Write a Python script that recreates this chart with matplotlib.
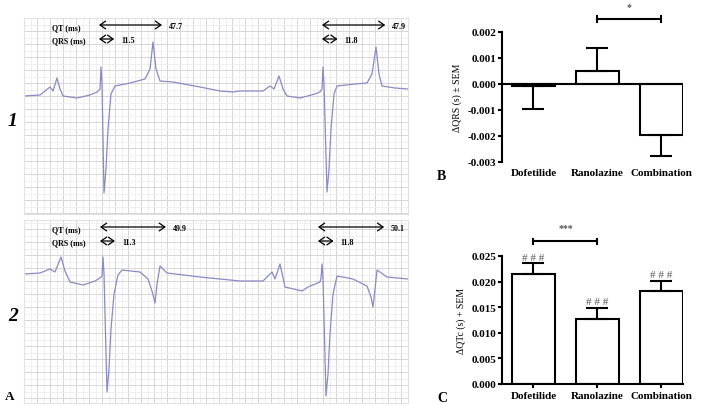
import matplotlib.pyplot as plt
from matplotlib.patches import FancyArrowPatch
from matplotlib.ticker import MultipleLocator, FormatStrFormatter

W, H = 702, 406
plt.rcParams['font.family'] = ['Liberation Serif', 'DejaVu Serif']
plt.rcParams['font.weight'] = 'bold'
plt.rcParams['axes.unicode_minus'] = False

# ECG traces
# t: position along the strip (grid px from left edge), v: amplitude above baseline
ecg1_t = [0, 16, 26, 29, 33, 36, 39, 53, 66, 73, 76, 77, 78, 80, 82, 84, 87, 91, 106, 121,
          126, 129, 132, 136, 149, 176, 196, 209, 216, 239, 246, 250, 255, 259, 263, 276, 291,
          296, 298, 299, 300, 303, 305, 307, 310, 313, 331, 343, 348, 352, 355, 358, 371, 384]
ecg1_v = [0, 1, 9, 5, 18, 7, 0, -2, 1, 4, 7, 29, 12, -97, -73, -33, 2, 10, 13, 17,
          27, 54, 27, 15, 14, 9, 5, 4, 5, 5, 10, 7, 20, 7, 0, -2, 2,
          4, 7, 29, 12, -96, -73, -33, 2, 10, 12, 13, 22, 49, 22, 10, 8, 7]

ecg2_t = [0, 16, 26, 31, 37, 41, 46, 59, 71, 76, 78, 79, 80, 83, 85, 87, 90, 94, 98, 116,
          124, 128, 131, 133, 136, 143, 176, 216, 239, 248, 251, 256, 261, 278, 284, 296, 297,
          298, 299, 302, 304, 306, 309, 313, 329, 343, 347, 349, 351, 353, 363, 384]
ecg2_v = [7, 8, 12, 9, 24, 10, -1, -4, 0, 3, 5, 24, 7, -111, -88, -48, -13, 6, 11, 9,
          2, -10, -22, -3, 15, 8, 4, 0, 0, 9, 2, 17, -6, -10, -6, -1, 3,
          17, 2, -115, -93, -53, -13, 5, 2, -5, -16, -26, -8, 11, 4, 2]

# measured intervals (ms) for the two beats of each strip
qt_ms = [[47.7, 47.9], [49.9, 50.1]]
qrs_ms = [[11.5, 11.8], [11.3, 11.8]]

groups = ['Dofetilide', 'Ranolazine', 'Combination']
dqrs_mean = [-0.00007, 0.0005, -0.00195]
dqrs_sem = [0.00088, 0.00087, 0.0008]
dqtc_mean = [0.0215, 0.0127, 0.0181]
dqtc_sem = [0.0021, 0.0022, 0.0021]


def box(l, t, r, b):
    return [l / W, 1 - b / H, (r - l) / W, (b - t) / H]


def fx(x):
    return x / W


def fy(y):
    return 1 - y / H


fig = plt.figure(figsize=(W / 100, H / 100), dpi=100)
trace_col = '#8a8ac8'

strips = [
    (box(24, 19, 408, 215), ecg1_t, ecg1_v, (-118, 78), 19, [99, 322]),
    (box(24, 221, 408, 404), ecg2_t, ecg2_v, (-122, 61), 221, [100, 318]),
]
px_per_ms = 1.32

for i, (pos, t, v, ylim, top, onsets) in enumerate(strips):
    ax = fig.add_axes(pos)
    ax.set_xlim(0, 384)
    ax.set_ylim(*ylim)
    ax.xaxis.set_major_locator(MultipleLocator(13))
    ax.xaxis.set_minor_locator(MultipleLocator(6.5))
    ax.yaxis.set_major_locator(MultipleLocator(13))
    ax.yaxis.set_minor_locator(MultipleLocator(6.5))
    ax.grid(which='major', color='#d6d6d6', lw=0.7)
    ax.grid(which='minor', color='#eeeeee', lw=0.6)
    ax.tick_params(which='both', length=0, labelbottom=False, labelleft=False)
    for s in ax.spines.values():
        s.set_color('#e2e2e2')
    ax.plot(t, v, color=trace_col, lw=0.9)

    y_qt = top + 7
    y_qrs = top + 21
    fig.text(fx(52), fy(y_qt + 2), 'QT (ms)', fontsize=5.8, va='center')
    fig.text(fx(52), fy(y_qrs + 1), 'QRS (ms)', fontsize=5.8, va='center')
    for k, x0 in enumerate(onsets):
        x_qt = x0 + qt_ms[i][k] * px_per_ms
        x_qrs = x0 + qrs_ms[i][k] * px_per_ms
        for x1, yy in [(x_qt, y_qt), (x_qrs, y_qrs)]:
            fig.add_artist(FancyArrowPatch((fx(x0), fy(yy)), (fx(x1), fy(yy)),
                                           transform=fig.transFigure,
                                           arrowstyle='<->,head_length=0.5,head_width=0.35',
                                           mutation_scale=8, lw=0.9, color='k',
                                           shrinkA=0, shrinkB=0))
        fig.text(fx(x_qt + 7), fy(y_qt + 1), f'{qt_ms[i][k]:.1f}', fontsize=5.8, va='center')
        fig.text(fx(x_qrs + 7), fy(y_qrs + 1), f'{qrs_ms[i][k]:.1f}', fontsize=5.8, va='center')

fig.text(fx(5), fy(400), 'A', fontsize=9.5, va='baseline')
fig.text(fx(8), fy(126), '1', fontsize=14, style='italic', va='baseline')
fig.text(fx(8), fy(321), '2', fontsize=14, style='italic', va='baseline')

x = [0, 1, 2]
bw = 0.67


def one_sided(means, sems):
    lo = [s if m < 0 else 0 for m, s in zip(means, sems)]
    hi = [s if m >= 0 else 0 for m, s in zip(means, sems)]
    return [lo, hi]


# Panel B
axb = fig.add_axes(box(502, 33, 683, 163))
axb.bar(x, dqrs_mean, width=bw, color='white', edgecolor='k', lw=1.5, zorder=2)
axb.errorbar(x, dqrs_mean, yerr=one_sided(dqrs_mean, dqrs_sem), fmt='none', ecolor='k',
             elinewidth=1.5, capsize=8, capthick=1.5, zorder=3)
axb.axhline(0, color='k', lw=1.5, zorder=4)
axb.set_xlim(-0.49, 2.336)
axb.set_ylim(-0.003, 0.002)
axb.yaxis.set_major_locator(MultipleLocator(0.001))
axb.yaxis.set_major_formatter(FormatStrFormatter('%.3f'))
for s in ['top', 'right', 'bottom']:
    axb.spines[s].set_visible(False)
axb.spines['left'].set_linewidth(1.5)
axb.set_xticks(x, groups)
axb.tick_params(axis='x', length=0, pad=4, labelsize=8)
axb.tick_params(axis='y', length=3, width=1.5, pad=1, labelsize=8)
axb.set_ylabel('ΔQRS (s) ± SEM', fontsize=7, labelpad=4)
sig_b = 0.0025
axb.plot([1, 2], [sig_b, sig_b], color='k', lw=1.5, clip_on=False)
axb.plot([1, 1], [sig_b - 0.0001, sig_b + 0.0001], color='k', lw=1.5, clip_on=False)
axb.plot([2, 2], [sig_b - 0.0001, sig_b + 0.0001], color='k', lw=1.5, clip_on=False)
axb.text(1.5, sig_b + 0.0003, '*', ha='center', va='bottom', fontsize=7, color='#555555',
         clip_on=False)
fig.text(fx(437), fy(180), 'B', fontsize=10, va='baseline')

# Panel C
axc = fig.add_axes(box(502, 257, 683, 385))
axc.bar(x, dqtc_mean, width=bw, color='white', edgecolor='k', lw=1.5, zorder=2)
axc.errorbar(x, dqtc_mean, yerr=one_sided(dqtc_mean, dqtc_sem), fmt='none', ecolor='k',
             elinewidth=1.5, capsize=8, capthick=1.5, zorder=3)
axc.set_xlim(-0.49, 2.336)
axc.set_ylim(0, 0.025)
axc.yaxis.set_major_locator(MultipleLocator(0.005))
axc.yaxis.set_major_formatter(FormatStrFormatter('%.3f'))
for s in ['top', 'right']:
    axc.spines[s].set_visible(False)
axc.spines['left'].set_linewidth(1.5)
axc.spines['bottom'].set_linewidth(1.5)
axc.set_xticks(x, groups)
axc.tick_params(axis='x', length=3, width=1.5, pad=2, labelsize=8)
axc.tick_params(axis='y', length=3, width=1.5, pad=1, labelsize=8)
axc.set_ylabel('ΔQTc (s) + SEM', fontsize=7, labelpad=4)
for xi, m, s in zip(x, dqtc_mean, dqtc_sem):
    axc.text(xi, m + s + 0.0003, '# # #', ha='center', va='bottom', fontsize=8,
             color='#555555', fontweight='normal', clip_on=False)
sig_c = 0.0279
axc.plot([0, 1], [sig_c, sig_c], color='k', lw=1.5, clip_on=False)
axc.plot([0, 0], [sig_c - 0.0005, sig_c + 0.0005], color='k', lw=1.5, clip_on=False)
axc.plot([1, 1], [sig_c - 0.0005, sig_c + 0.0005], color='k', lw=1.5, clip_on=False)
axc.text(0.5, sig_c + 0.0017, '***', ha='center', va='bottom', fontsize=7, color='#555555',
         clip_on=False)
fig.text(fx(437), fy(402), 'C', fontsize=10, va='baseline')

fig.savefig('out.png', dpi=100)
